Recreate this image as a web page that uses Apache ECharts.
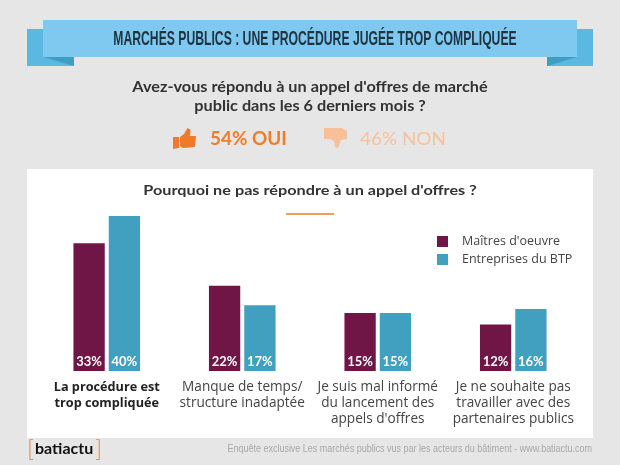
<!DOCTYPE html>
<html><head><meta charset="utf-8">
<style>html,body{margin:0;padding:0;background:#e6e6e6}#c{width:620px;height:465px}</style>
<script src="https://cdn.jsdelivr.net/npm/echarts@6/dist/echarts.min.js"></script>
</head><body><div id="c"></div>
<script>
const categories = ["La procédure est\ntrop compliquée","Manque de temps/\nstructure inadaptée","Je suis mal informé\ndu lancement des\nappels d'offres","Je ne souhaite pas\ntravailler avec des\npartenaires publics"];
const maitres = [33,22,15,12];
const entreprises = [40,17,15,16];
const seriesNames = ["Maîtres d'oeuvre","Entreprises du BTP"];
const heading = "MARCHÉS PUBLICS : UNE PROCÉDURE JUGÉE TROP COMPLIQUÉE";
const question = "Avez-vous répondu à un appel d'offres de marché\npublic dans les 6 derniers mois ?";
const subheading = "Pourquoi ne pas répondre à un appel d'offres ?";
const yes = "54% OUI", no = "46% NON";
const footer = "Enquête exclusive Les marchés publics vus par les acteurs du bâtiment - www.batiactu.com";
const F = "Lato, 'Open Sans', sans-serif";
const O = "'Open Sans', sans-serif";
const rect=(x,y,w,h,fill,z)=>({type:'rect',shape:{x,y,width:w,height:h},style:{fill},z:z||0,silent:true});
const poly=(pts,fill,z)=>({type:'polygon',shape:{points:pts},style:{fill},z:z||1,silent:true});
const txt=(x,y,text,font,fill,align,sx,extra)=>({type:'text',x,y,z:3,silent:true,scaleX:sx||1,style:Object.assign({text,font,fill,align:align||'center',verticalAlign:'middle'},extra||{})});
const chart=echarts.init(document.getElementById('c'),null,{renderer:'canvas'});
chart.setOption({
  animation:false,backgroundColor:'#e6e6e6',
  graphic:[
    rect(27,169,566,269,'#ffffff',0),
    rect(27,29,46,37,'#5bb8e0',0),rect(547,29,46,37,'#5bb8e0',0),
    poly([[43,57],[74,57],[74,66]],'#3f9ec4'),poly([[577,57],[547,57],[547,66]],'#3f9ec4'),
    rect(43,20,534,37,'#7fc9f1',2),
    txt(315,39,heading,"bold 21px 'Liberation Sans', sans-serif",'#1f3340','center',0.58),
    txt(310,96,question,"bold 15.5px "+F,'#333333','center',1.05,{lineHeight:19}),
    poly([[173,137],[179,137],[179,148],[173,149]],'#f07a2a',3),
    poly([[180,137],[184,134],[187.5,128],[190.5,129.5],[190,136],[196,136],[195,147],[183,148],[180,146]],'#f07a2a',3),
    poly([[324,128],[342,128],[347,131],[347,139],[341,140],[338,148],[335,147],[334,141],[329,139],[324,139]],'#f8c09a',3),
    txt(210,139,yes,"bold 18px "+F,'#ee7d2c','left',1.05),
    txt(360,139,no,"18px "+F,'#f6c19c','left',1.05),
    txt(310,190,subheading,"bold 14px "+F,'#333333','center',1.16),
    rect(286,213,48,2,'#e5a25a',3),
    txt(27,449,"[","300 24px "+F,'#ee8a3c','left'),
    txt(35,449,"batiactu","bold 16px "+F,'#111111','left'),
    txt(95,449,"]","300 24px "+F,'#ee8a3c','left'),
    txt(592,449,footer,"10px 'Liberation Sans', sans-serif",'#a8a8a8','right',0.897)
  ],
  legend:{orient:'vertical',left:437,top:235,padding:0,itemWidth:11,itemHeight:11,itemGap:5,icon:'rect',
    selectedMode:false,data:seriesNames,
    textStyle:{fontFamily:O,fontSize:12.5,color:'#444444',padding:[0,0,0,9]}},
  grid:{left:39,top:216,width:542,height:155},
  xAxis:{type:'category',
    data:categories.map((c,i)=>i===0?{value:c,textStyle:{fontWeight:'bold',fontSize:12.7,color:'#222222'}}:c),
    axisLine:{show:false},axisTick:{show:false},
    axisLabel:{interval:0,margin:8,fontFamily:O,fontSize:13.6,lineHeight:16,color:'#444444',hideOverlap:false}},
  yAxis:{type:'value',min:0,max:40,show:false,splitLine:{show:false}},
  series:[
    {name:seriesNames[0],type:'bar',data:maitres,barWidth:31.3,barGap:'12.8%',itemStyle:{color:'#6f1646'},
     label:{show:true,position:'insideBottom',distance:3,formatter:'{c}%',color:'#fff',fontFamily:F,fontWeight:'bold',fontSize:13}},
    {name:seriesNames[1],type:'bar',data:entreprises,barWidth:31.3,itemStyle:{color:'#41a0c0'},
     label:{show:true,position:'insideBottom',distance:3,formatter:'{c}%',color:'#fff',fontFamily:F,fontWeight:'bold',fontSize:13}}
  ]
});
</script></body></html>
